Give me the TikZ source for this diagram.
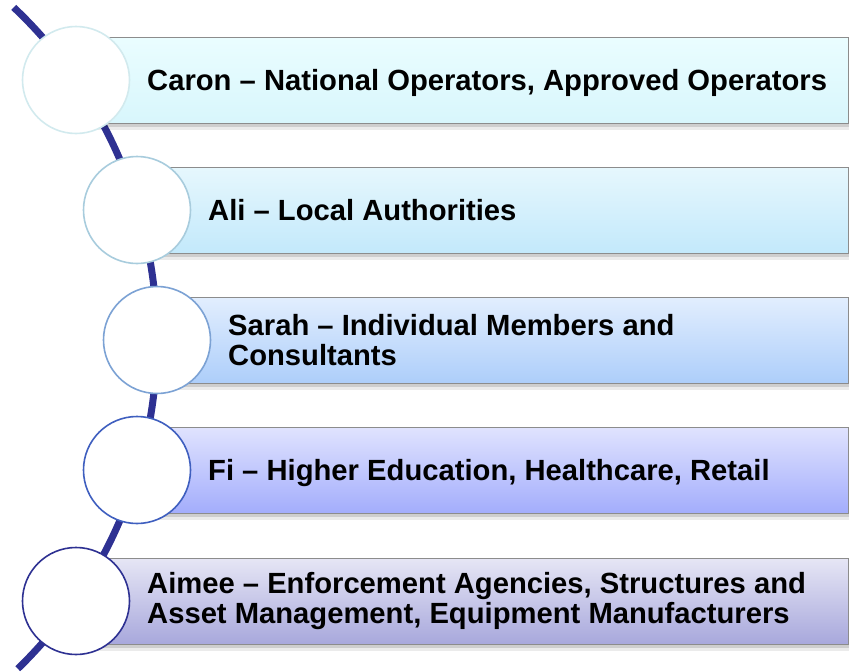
\documentclass[tikz,border=0pt]{standalone}
\usepackage{fontspec}
\setmainfont{Liberation Sans}
\usetikzlibrary{calc}
\definecolor{arcnavy}{HTML}{2E3192}
\definecolor{bAt}{HTML}{EAFDFF}\definecolor{bAb}{HTML}{D8F6FC}
\definecolor{bBt}{HTML}{E6F7FD}\definecolor{bBb}{HTML}{C3E9FB}
\definecolor{bCt}{HTML}{E2EEFE}\definecolor{bCb}{HTML}{ADCEFA}
\definecolor{bDt}{HTML}{E0E3FE}\definecolor{bDb}{HTML}{A3ADFC}
\definecolor{bEt}{HTML}{E6E6F5}\definecolor{bEb}{HTML}{A8A8DC}
\definecolor{cA}{HTML}{D2EAEE}\definecolor{cB}{HTML}{A8CCDD}
\definecolor{cC}{HTML}{7CA2D4}\definecolor{cD}{HTML}{3F5FBF}
\definecolor{cE}{HTML}{2E3192}
\tikzset{
  barbox/.style={draw=black!45, line width=0.9pt},
  ringbox/.style={circle, fill=white, line width=1.6pt, minimum size=107pt, inner sep=0pt},
  labeltext/.style={anchor=west, align=left, inner sep=0pt, font=\fontsize{29.2pt}{30pt}\selectfont\bfseries},
  onelabel/.style={labeltext, anchor=base west},
}
\newcommand{\onebar}[5]{% #1 left x, #2 center y, #3 top color, #4 bottom color, #5 name
  \fill[black, opacity=0.08] (#1+2,#2-43+6) rectangle (848+3,#2+43+7);
  \fill[black, opacity=0.12] (#1+2,#2-43+4) rectangle (848+1.5,#2+43+4);
  \shade[top color=#3, bottom color=#4] (#1,#2-43) rectangle (848,#2+43);
  \draw[barbox] (#1,#2-43) rectangle (848,#2+43);
  \coordinate (#5) at (#1,#2);
}
\begin{document}
\begin{tikzpicture}[x=1pt,y=-1pt]
\useasboundingbox (0,0) rectangle (849,672);
% arc
\draw[arcnavy, line width=7pt] plot[domain=-46.6:45.9, samples=80, smooth] ({-300.8+457.8*cos(\x)}, {340+457.8*sin(\x)});
% bars
\onebar{76}{80}{bAt}{bAb}{barA}
\onebar{137}{210}{bBt}{bBb}{barB}
\onebar{157}{340}{bCt}{bCb}{barC}
\onebar{137}{470}{bDt}{bDb}{barD}
\onebar{76}{601}{bEt}{bEb}{barE}
% circles
\node[ringbox, draw=cA] (ringA) at (76,80) {};
\node[ringbox, draw=cB] (ringB) at (137,210) {};
\node[ringbox, draw=cC] (ringC) at (157,340) {};
\node[ringbox, draw=cD] (ringD) at (137,470) {};
\node[ringbox, draw=cE] (ringE) at (76,601) {};
% labels
\node[onelabel] (txtA) at (147,90.5) {Caron – National Operators, Approved Operators};
\node[onelabel] (txtB) at (208,220.5) {Ali – Local Authorities};
\node[labeltext] (txtC) at (228,340) {Sarah – Individual Members and\\Consultants};
\node[onelabel] (txtD) at (208,480.5) {Fi – Higher Education, Healthcare, Retail};
\node[labeltext] (txtE) at (147,601) {Aimee – Enforcement Agencies, Structures and\\Asset Management, Equipment Manufacturers};
\end{tikzpicture}
\end{document}
